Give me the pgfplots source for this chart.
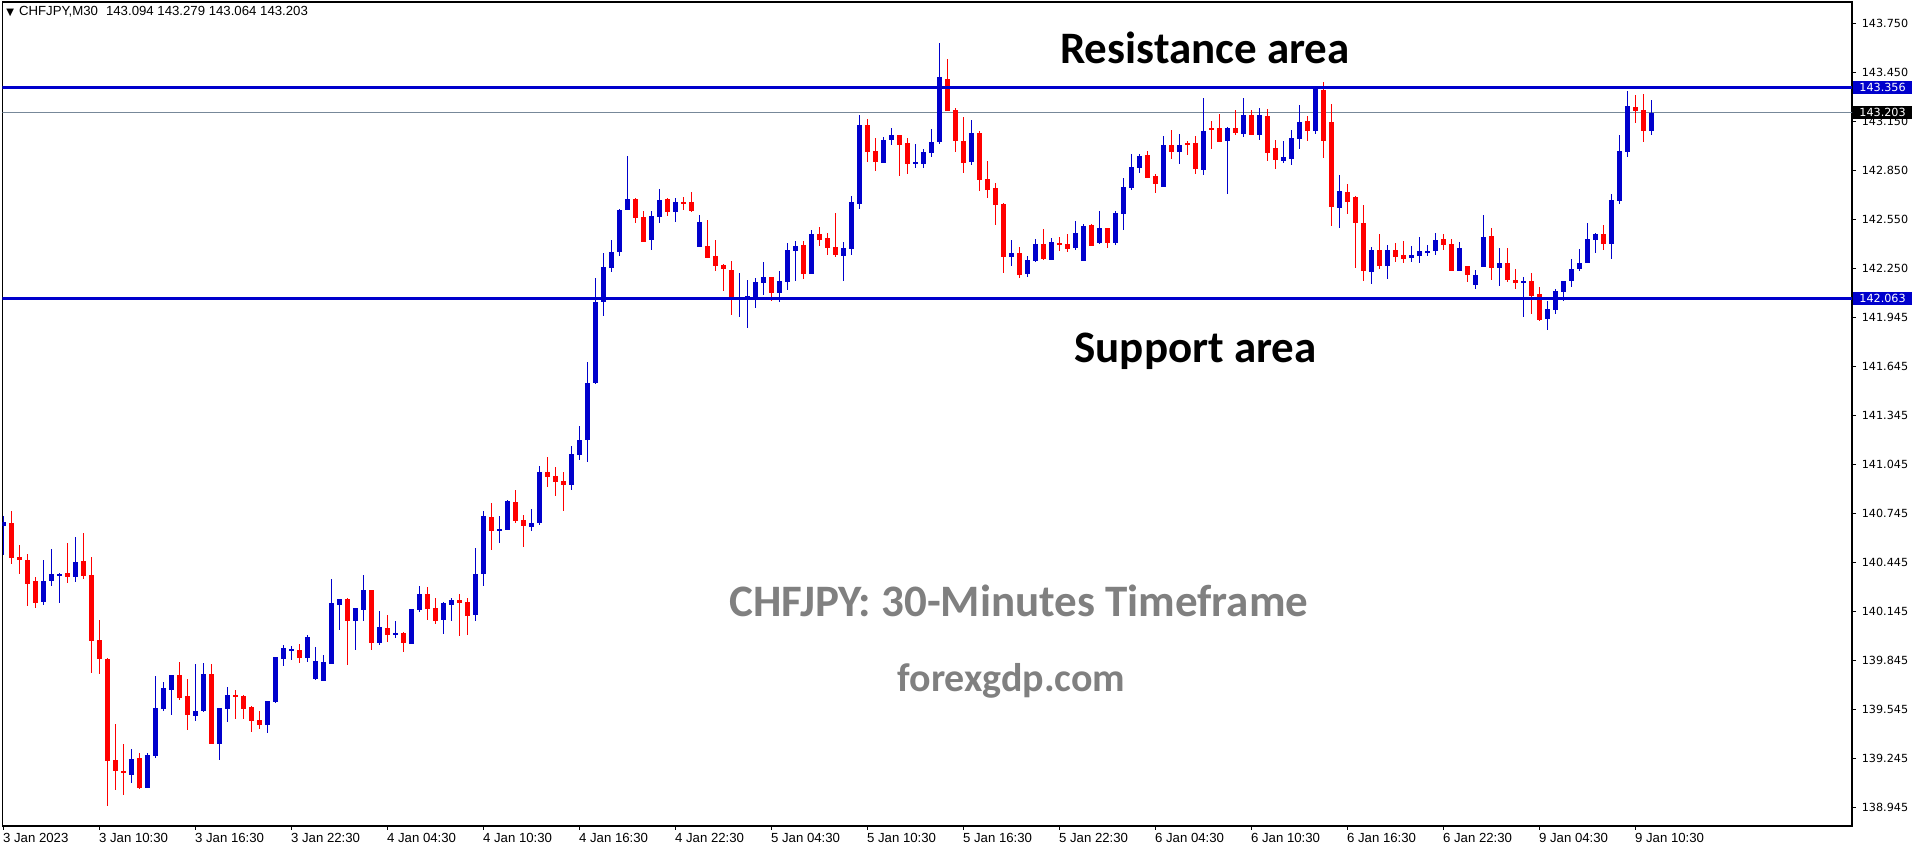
\documentclass[border=0pt]{standalone}
\usepackage{pgfplots}
\pgfplotsset{compat=1.18}
\usepackage{pgfplotstable}
\usepackage{fontspec}
\setmainfont{Liberation Sans}
\newfontfamily\dejavu{DejaVu Sans}
\newfontfamily\carlito{Carlito}
\definecolor{cblue}{RGB}{0,0,204}
\definecolor{cred}{RGB}{255,0,0}
\definecolor{pgray}{RGB}{119,136,153}
\definecolor{tgray}{RGB}{128,128,128}

% CHFJPY M30 candles: index, open, high, low, close
\pgfplotstableread{
i o h l c
0 140.672 140.731 140.492 140.694
1 140.688 140.761 140.439 140.476
2 140.480 140.553 140.377 140.463
3 140.461 140.498 140.181 140.316
4 140.333 140.357 140.169 140.200
5 140.206 140.461 140.188 140.333
6 140.335 140.529 140.304 140.375
7 140.365 140.382 140.200 140.375
8 140.382 140.565 140.322 140.359
9 140.359 140.602 140.329 140.449
10 140.455 140.627 140.347 140.365
11 140.369 140.480 139.771 139.967
12 139.971 140.094 139.765 139.857
13 139.855 139.861 138.956 139.232
14 139.236 139.456 139.054 139.170
15 139.168 139.334 139.023 139.158
16 139.146 139.303 139.097 139.242
17 139.248 139.279 139.060 139.066
18 139.066 139.279 139.066 139.266
19 139.262 139.750 139.252 139.554
20 139.550 139.714 139.538 139.677
21 139.667 139.757 139.511 139.757
22 139.757 139.836 139.605 139.618
23 139.628 139.732 139.422 139.514
24 139.507 139.824 139.477 139.536
25 139.538 139.830 139.532 139.763
26 139.763 139.824 139.336 139.336
27 139.336 139.554 139.238 139.554
28 139.550 139.683 139.471 139.634
29 139.634 139.665 139.489 139.624
30 139.628 139.634 139.489 139.550
31 139.561 139.567 139.409 139.477
32 139.481 139.538 139.428 139.452
33 139.452 139.597 139.403 139.597
34 139.593 139.867 139.587 139.867
35 139.857 139.940 139.814 139.922
36 139.910 139.934 139.851 139.916
37 139.910 139.947 139.832 139.863
38 139.863 140.002 139.838 139.989
39 139.734 139.928 139.728 139.842
40 139.722 139.879 139.722 139.836
41 139.826 140.345 139.826 140.198
42 140.187 140.222 140.034 140.222
43 140.222 140.228 139.820 140.089
44 140.089 140.167 139.912 140.167
45 140.157 140.369 140.089 140.277
46 140.277 140.277 139.912 139.955
47 139.955 140.149 139.942 140.051
48 140.044 140.124 139.961 140.004
49 140.004 140.087 139.985 140.014
50 140.014 140.020 139.899 139.955
51 139.948 140.161 139.948 140.161
52 140.157 140.302 140.144 140.253
53 140.253 140.296 140.095 140.163
54 140.167 140.228 140.071 140.089
55 140.095 140.204 140.010 140.198
56 140.187 140.228 140.089 140.216
57 140.216 140.253 139.997 140.200
58 140.204 140.228 140.004 140.120
59 140.126 140.535 140.089 140.375
60 140.377 140.761 140.304 140.731
61 140.725 140.810 140.524 140.641
62 140.641 140.731 140.567 140.651
63 140.647 140.829 140.647 140.823
64 140.816 140.890 140.690 140.702
65 140.706 140.737 140.543 140.671
66 140.665 140.774 140.641 140.688
67 140.690 141.037 140.678 141.000
68 141.000 141.092 140.910 140.972
69 140.976 141.031 140.855 140.941
70 140.945 141.000 140.763 140.923
71 140.923 141.160 140.892 141.111
72 141.104 141.282 141.074 141.196
73 141.199 141.675 141.064 141.546
74 141.546 142.189 141.540 142.042
75 142.042 142.342 141.956 142.257
76 142.253 142.422 142.226 142.349
77 142.349 142.612 142.326 142.606
78 142.608 142.937 142.608 142.673
79 142.673 142.680 142.528 142.559
80 142.563 142.600 142.412 142.412
81 142.424 142.600 142.363 142.569
82 142.565 142.735 142.528 142.667
83 142.673 142.680 142.571 142.596
84 142.596 142.680 142.534 142.655
85 142.655 142.686 142.608 142.645
86 142.655 142.716 142.596 142.602
87 142.381 142.575 142.381 142.532
88 142.385 142.545 142.314 142.314
89 142.326 142.422 142.234 142.265
90 142.269 142.277 142.112 142.246
91 142.238 142.293 141.963 142.069
92 142.063 142.220 141.950 142.069
93 142.071 142.177 141.883 142.079
94 142.063 142.189 142.005 142.165
95 142.161 142.287 142.087 142.195
96 142.195 142.195 142.050 142.099
97 142.099 142.232 142.044 142.171
98 142.167 142.404 142.118 142.361
99 142.357 142.416 142.173 142.385
100 142.392 142.416 142.185 142.216
101 142.216 142.483 142.216 142.459
102 142.459 142.502 142.387 142.424
103 142.434 142.465 142.332 142.375
104 142.379 142.588 142.320 142.332
105 142.326 142.410 142.173 142.373
106 142.369 142.692 142.332 142.655
107 142.645 143.188 142.614 143.127
108 143.127 143.164 142.902 142.963
109 142.968 143.047 142.847 142.902
110 142.896 143.053 142.896 143.035
111 143.035 143.108 143.004 143.066
112 143.066 143.066 142.816 143.004
113 143.017 143.047 142.829 142.890
114 142.890 143.010 142.865 142.900
115 142.890 142.980 142.865 142.961
116 142.957 143.102 142.933 143.023
117 143.023 143.629 143.010 143.421
118 143.409 143.531 143.215 143.215
119 143.219 143.231 142.963 143.031
120 143.029 143.176 142.835 142.896
121 142.902 143.158 142.884 143.078
122 143.078 143.090 142.725 142.792
123 142.796 142.906 142.682 142.731
124 142.741 142.771 142.516 142.639
125 142.645 142.651 142.222 142.320
126 142.320 142.422 142.265 142.343
127 142.343 142.379 142.191 142.210
128 142.216 142.324 142.198 142.300
129 142.296 142.428 142.289 142.398
130 142.398 142.490 142.302 142.308
131 142.302 142.434 142.302 142.410
132 142.404 142.441 142.357 142.394
133 142.398 142.459 142.351 142.369
134 142.375 142.539 142.363 142.465
135 142.296 142.520 142.296 142.508
136 142.514 142.520 142.388 142.388
137 142.406 142.600 142.400 142.496
138 142.496 142.496 142.375 142.406
139 142.406 142.600 142.394 142.588
140 142.584 142.802 142.486 142.747
141 142.743 142.949 142.731 142.872
142 142.865 142.949 142.835 142.937
143 142.943 142.967 142.804 142.804
144 142.814 142.826 142.712 142.767
145 142.749 143.059 142.749 143.004
146 143.004 143.096 142.920 142.963
147 142.963 143.072 142.890 143.004
148 143.016 143.029 142.945 143.006
149 143.016 143.059 142.829 142.859
150 142.853 143.292 142.822 143.090
151 143.108 143.151 142.982 143.104
152 143.108 143.194 143.025 143.025
153 143.031 143.114 142.706 143.108
154 143.108 143.219 143.067 143.080
155 143.074 143.292 143.055 143.188
156 143.188 143.219 143.067 143.067
157 143.067 143.231 143.037 143.188
158 143.182 143.225 142.908 142.957
159 142.986 143.035 142.859 142.914
160 142.908 143.029 142.896 142.931
161 142.920 143.096 142.884 143.047
162 143.043 143.249 142.982 143.145
163 143.151 143.182 143.031 143.092
164 143.092 143.353 143.074 143.353
165 143.341 143.390 142.927 143.031
166 143.145 143.255 142.510 142.622
167 142.622 142.820 142.498 142.722
168 142.716 142.765 142.583 142.657
169 142.686 142.692 142.253 142.528
170 142.528 142.636 142.173 142.234
171 142.228 142.379 142.155 142.361
172 142.361 142.459 142.246 142.265
173 142.265 142.391 142.185 142.361
174 142.361 142.404 142.289 142.320
175 142.330 142.416 142.283 142.308
176 142.314 142.385 142.289 142.330
177 142.326 142.441 142.283 142.355
178 142.349 142.391 142.326 142.355
179 142.357 142.465 142.332 142.422
180 142.428 142.459 142.363 142.393
181 142.398 142.428 142.234 142.234
182 142.234 142.410 142.234 142.373
183 142.263 142.263 142.167 142.210
184 142.148 142.238 142.124 142.208
185 142.259 142.575 142.259 142.440
186 142.447 142.496 142.179 142.253
187 142.253 142.373 142.142 142.281
188 142.281 142.373 142.167 142.179
189 142.177 142.244 142.124 142.161
190 142.161 142.195 141.952 142.171
191 142.171 142.220 141.971 142.081
192 142.091 142.134 141.928 141.934
193 141.940 142.048 141.873 142.000
194 141.995 142.122 141.971 142.110
195 142.105 142.171 142.050 142.171
196 142.173 142.306 142.136 142.244
197 142.246 142.367 142.234 142.281
198 142.283 142.526 142.283 142.428
199 142.424 142.465 142.344 142.459
200 142.459 142.514 142.363 142.400
201 142.400 142.704 142.308 142.667
202 142.663 143.065 142.645 142.967
203 142.963 143.335 142.933 143.243
204 143.237 143.311 143.141 143.215
205 143.219 143.317 143.025 143.092
206 143.094 143.279 143.064 143.203
}\candles

\begin{document}
\begin{tikzpicture}
\useasboundingbox (0,0) rectangle (958pt,425pt);
\begin{axis}[
  at={(1.25pt,12pt)}, anchor=south west,
  width=924.75pt, height=412pt, scale only axis,
  xmin=-0.1, xmax=231.09, ymin=138.8315, ymax=143.8805,
  axis line style={line width=0.6pt},
  xtick={0,12,...,204},
  xticklabels={3 Jan 2023,3 Jan 10:30,3 Jan 16:30,3 Jan 22:30,4 Jan 04:30,4 Jan 10:30,4 Jan 16:30,4 Jan 22:30,5 Jan 04:30,5 Jan 10:30,5 Jan 16:30,5 Jan 22:30,6 Jan 04:30,6 Jan 10:30,6 Jan 16:30,6 Jan 22:30,9 Jan 04:30,9 Jan 10:30},
  ytick={143.75,143.45,143.15,142.85,142.55,142.25,141.945,141.645,141.345,141.045,140.745,140.445,140.145,139.845,139.545,139.245,138.945},
  yticklabels={143.750,143.450,143.150,142.850,142.550,142.250,141.945,141.645,141.345,141.045,140.745,140.445,140.145,139.845,139.545,139.245,138.945},
  xtick pos=bottom, ytick pos=right, yticklabel pos=right,
  tick align=outside, major tick length=2pt,
  tick style={black, line width=0.5pt},
  xticklabel style={anchor=north west, inner sep=0pt, font=\fontsize{6.6}{7.5}\selectfont, yshift=-1.3pt, xshift=-0.3pt},
  yticklabel style={anchor=west, inner sep=0pt, font=\dejavu\fontsize{5.6}{6.5}\selectfont, xshift=2.7pt},
]
\addplot[pgray, line width=0.5pt, forget plot] coordinates {(-1,143.203) (240,143.203)};

% bullish candles
\addplot[draw=none, mark=none, forget plot, error bars/.cd, y dir=both, y explicit, error mark=none,
  error bar style={draw=cblue, line width=0.6pt}]
  table[x=i, y expr={\thisrow{c}>\thisrow{o} ? (\thisrow{h}+\thisrow{l})/2 : 138}, y error expr={(\thisrow{h}-\thisrow{l})/2}] {\candles};
\addplot[draw=none, mark=none, forget plot, error bars/.cd, y dir=both, y explicit, error mark=none,
  error bar style={draw=cblue, line width=2.4pt}]
  table[x=i, y expr={\thisrow{c}>\thisrow{o} ? (\thisrow{o}+\thisrow{c})/2 : 138}, y error expr={max(abs(\thisrow{c}-\thisrow{o})/2,0.0015)}] {\candles};

% bearish candles
\addplot[draw=none, mark=none, forget plot, error bars/.cd, y dir=both, y explicit, error mark=none,
  error bar style={draw=cred, line width=0.6pt}]
  table[x=i, y expr={\thisrow{c}<\thisrow{o} ? (\thisrow{h}+\thisrow{l})/2 : 138}, y error expr={(\thisrow{h}-\thisrow{l})/2}] {\candles};
\addplot[draw=none, mark=none, forget plot, error bars/.cd, y dir=both, y explicit, error mark=none,
  error bar style={draw=cred, line width=2.4pt}]
  table[x=i, y expr={\thisrow{c}<\thisrow{o} ? (\thisrow{o}+\thisrow{c})/2 : 138}, y error expr={max(abs(\thisrow{c}-\thisrow{o})/2,0.0015)}] {\candles};

% resistance and support
\addplot[cblue, line width=1.6pt, forget plot] coordinates {(-1,143.356) (240,143.356)};
\addplot[cblue, line width=1.6pt, forget plot] coordinates {(-1,142.063) (240,142.063)};

\coordinate (rr) at (axis cs:231.09,143.356);
\coordinate (cp) at (axis cs:231.09,143.203);
\coordinate (ss) at (axis cs:231.09,142.063);
\end{axis}

\tikzset{pricebox/.style={anchor=west, inner sep=0pt, inner xsep=3pt, minimum height=6.6pt, minimum width=26.5pt, align=left, text=white, font=\dejavu\fontsize{5.6}{6.5}\selectfont}}
\node[pricebox, fill=cblue] at ([xshift=0.5pt]rr) {143.356};
\node[pricebox, fill=black] at ([xshift=0.5pt]cp) {143.203};
\node[pricebox, fill=cblue] at ([xshift=0.5pt]ss) {142.063};

\node[anchor=west, inner sep=0pt, font=\fontsize{6.6}{8}\selectfont] at (3pt,419pt) {{\dejavu\fontsize{5}{6}\selectfont ▼}\hspace{2.5pt}CHFJPY,M30\hspace{4pt}143.094 143.279 143.064 143.203};

\node[anchor=base, font=\carlito\bfseries\fontsize{22.5}{27}\selectfont] at (602.5pt,393.2pt) {Resistance area};
\node[anchor=base, font=\carlito\bfseries\fontsize{22.5}{27}\selectfont] at (597.8pt,243.5pt) {Support area};
\node[anchor=base, text=tgray, font=\carlito\bfseries\fontsize{22.5}{27}\selectfont] at (509.5pt,116.5pt) {CHFJPY: 30-Minutes Timeframe};
\node[anchor=base, text=tgray, font=\carlito\bfseries\fontsize{20}{24}\selectfont] at (505.7pt,79.2pt) {forexgdp.com};
\end{tikzpicture}
\end{document}
